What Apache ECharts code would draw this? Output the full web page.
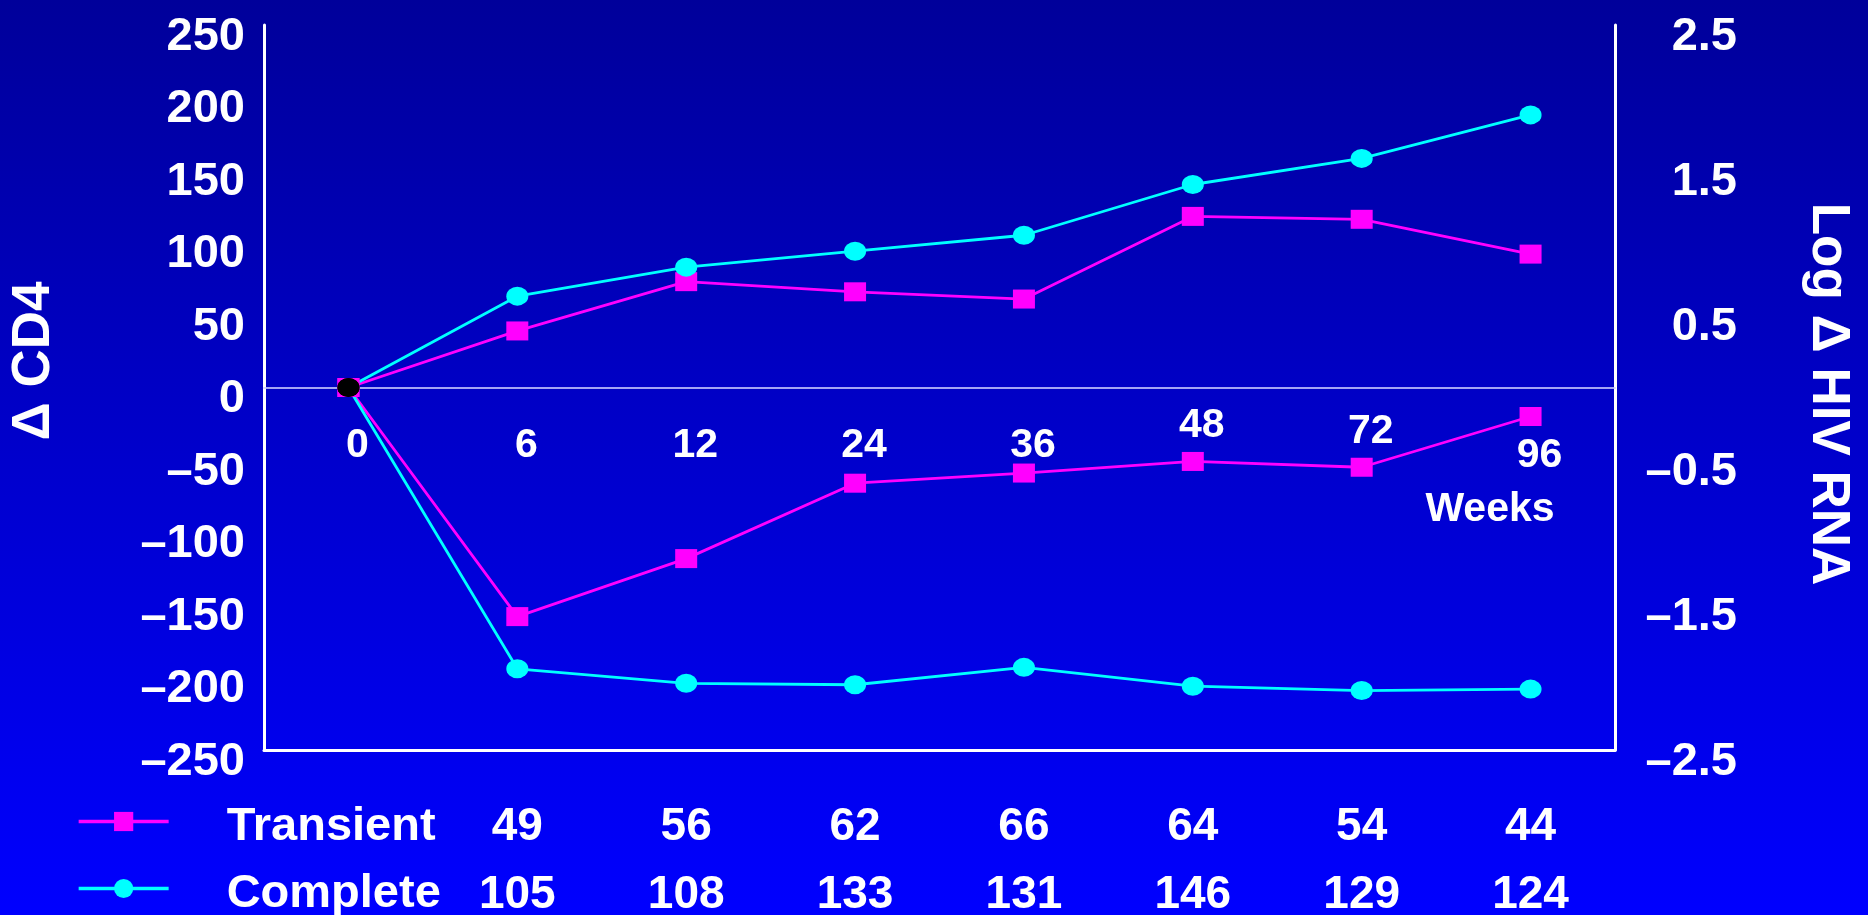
<!DOCTYPE html>
<html>
<head>
<meta charset="utf-8">
<script src="https://cdn.jsdelivr.net/npm/echarts@6/dist/echarts.min.js"></script>
<style>
  html, body { margin: 0; padding: 0; width: 100%; height: 100%; background: linear-gradient(#00009a, #0000ff); overflow: hidden; }
  #chart { width: 1868px; height: 915px; }
</style>
</head>
<body>
<div id="chart"></div>
<script>
// Study weeks (category axis)
const weeks = ['0', '6', '12', '24', '36', '48', '72', '96'];

// Change in CD4 count (left axis)
const cd4Transient = [0, 39, 73, 66, 61, 118, 116, 92];
const cd4Complete  = [0, 63, 83, 94, 105, 140, 158, 188];

// Log change in HIV RNA (right axis)
const rnaTransient = [0, -1.58, -1.18, -0.66, -0.59, -0.51, -0.55, -0.20];
const rnaComplete  = [0, -1.94, -2.04, -2.05, -1.93, -2.06, -2.09, -2.08];

// Patients at each visit, weeks 6..96
const nTransient = [49, 56, 62, 66, 64, 54, 44];
const nComplete  = [105, 108, 133, 131, 146, 129, 124];

// Tick labels
const cd4Ticks = [-250, -200, -150, -100, -50, 0, 50, 100, 150, 200, 250];
const rnaTicks = [-2.5, -1.5, -0.5, 0.5, 1.5, 2.5];

const FONT = "'Liberation Sans', Arial, Helvetica, sans-serif";
const MAGENTA = '#ff00ff';
const CYAN = '#00ffff';
const WHITE = '#ffffff';

// plot area (px)
const GRID = { left: 264, right: 253, top: 25, bottom: 165 };
const PLOT_H = 915 - GRID.top - GRID.bottom;

// minus shown as an en dash
const signed = (v, digits) => {
  const s = Math.abs(v).toFixed(digits);
  return v < 0 ? '\u2013' + s : s;
};

// vertical placement of individual week labels so they clear the lines
const weekLabelRow = { '48': 'hi', '72': 'mid', '96': 'low' };

function lineSeries(name, values, yAxisIndex, symbol, color) {
  return {
    name: name,
    type: 'line',
    xAxisIndex: 0,
    yAxisIndex: yAxisIndex,
    data: values.map((v, i) =>
      (i === 0 && symbol === 'circle') ? { value: v, itemStyle: { color: '#000000' } } : v),
    symbol: symbol,
    symbolSize: [22, 19],
    showSymbol: true,
    lineStyle: { color: color, width: 2.8 },
    itemStyle: { color: color },
    emphasis: { disabled: true },
    animation: false
  };
}

const labelFont = { color: WHITE, fontFamily: FONT, fontWeight: 'bold' };
const tickRich = { t: Object.assign({ fontSize: 47, lineHeight: 47, padding: [24, 0, 0, 0] }, labelFont) };

const chart = echarts.init(document.getElementById('chart'), null, { renderer: 'canvas' });

chart.setOption({
  backgroundColor: {
    type: 'linear', x: 0, y: 0, x2: 0, y2: 1,
    colorStops: [{ offset: 0, color: '#00009a' }, { offset: 1, color: '#0000ff' }]
  },
  animation: false,
  grid: Object.assign({ containLabel: false, outerBoundsMode: 'none' }, GRID),
  legend: {
    data: ['Transient', 'Complete'],
    orient: 'vertical',
    left: 77,
    top: 792,
    height: 150,
    padding: 0,
    itemWidth: 90,
    itemHeight: 24,
    itemGap: 8,
    selectedMode: false,
    lineStyle: { width: 3.3 },
    formatter: name => '{n|' + name + '}',
    textStyle: Object.assign({
      fontSize: 47,
      rich: { n: Object.assign({ fontSize: 47, lineHeight: 50, padding: [12, 0, 0, 53] }, labelFont) }
    }, labelFont)
  },
  xAxis: [
    {
      // week axis drawn along the zero line (middle of the plot)
      type: 'category',
      data: weeks,
      position: 'bottom',
      offset: -PLOT_H / 2,
      boundaryGap: true,
      axisLine: { onZero: false, lineStyle: { color: 'rgba(205,205,255,0.8)', width: 2 } },
      axisTick: { show: false },
      splitLine: { show: false },
      axisLabel: Object.assign({
        interval: 0,
        margin: 18,
        verticalAlign: 'top',
        fontSize: 41,
        formatter: v => '{' + (weekLabelRow[v] || 'base') + '|' + v + '}',
        rich: {
          base: Object.assign({ fontSize: 41, lineHeight: 41, padding: [40, 0, 0, 18] }, labelFont),
          hi:   Object.assign({ fontSize: 41, lineHeight: 41, padding: [0, 0, 0, 18] }, labelFont),
          mid:  Object.assign({ fontSize: 41, lineHeight: 41, padding: [12, 0, 0, 18] }, labelFont),
          low:  Object.assign({ fontSize: 41, lineHeight: 41, padding: [60, 0, 0, 18] }, labelFont)
        }
      }, labelFont)
    },
    {
      type: 'category',
      data: [''].concat(nTransient.map(String)),
      position: 'bottom',
      axisLine: { show: true, onZero: false, lineStyle: { color: WHITE, width: 3 } },
      axisTick: { show: false },
      splitLine: { show: false },
      axisLabel: Object.assign({ interval: 0, margin: 77, verticalAlign: 'middle', fontSize: 46 }, labelFont)
    },
    {
      type: 'category',
      data: [''].concat(nComplete.map(String)),
      position: 'bottom',
      axisLine: { show: false, onZero: false },
      axisTick: { show: false },
      splitLine: { show: false },
      axisLabel: Object.assign({ interval: 0, margin: 145, verticalAlign: 'middle', fontSize: 46 }, labelFont)
    }
  ],
  yAxis: [
    {
      type: 'value',
      position: 'left',
      min: -250, max: 250, interval: 50,
      axisLine: { show: true, onZero: false, lineStyle: { color: WHITE, width: 3 } },
      axisTick: { show: false },
      splitLine: { show: false },
      axisLabel: Object.assign({
        margin: 19, fontSize: 47, rich: tickRich,
        formatter: v => cd4Ticks.indexOf(v) >= 0 ? '{t|' + signed(v, 0) + '}' : ''
      }, labelFont)
    },
    {
      type: 'value',
      position: 'right',
      min: -2.5, max: 2.5, interval: 0.5,
      axisLine: { show: true, onZero: false, lineStyle: { color: WHITE, width: 3 } },
      axisTick: { show: false },
      splitLine: { show: false },
      axisLabel: Object.assign({
        margin: 122, align: 'right', fontSize: 47, rich: tickRich,
        formatter: v => rnaTicks.some(t => Math.abs(t - v) < 1e-9) ? '{t|' + signed(v, 1) + '}' : ''
      }, labelFont)
    }
  ],
  graphic: [
    {
      type: 'text', x: 34, y: 361, rotation: Math.PI / 2,
      style: { text: '\u0394 CD4', fill: WHITE, font: 'bold 53px ' + FONT, align: 'center', verticalAlign: 'middle', textAlign: 'center', textVerticalAlign: 'middle' }
    },
    {
      type: 'text', x: 1828, y: 394, rotation: -Math.PI / 2,
      style: { text: 'Log \u0394 HIV RNA', fill: WHITE, font: 'bold 53px ' + FONT, align: 'center', verticalAlign: 'middle', textAlign: 'center', textVerticalAlign: 'middle' }
    },
    {
      type: 'text', x: 1490, y: 510,
      style: { text: 'Weeks', fill: WHITE, font: 'bold 41px ' + FONT, align: 'center', verticalAlign: 'middle', textAlign: 'center', textVerticalAlign: 'middle' }
    }
  ],
  series: [
    lineSeries('Transient', rnaTransient, 1, 'rect', MAGENTA),
    lineSeries('Transient', cd4Transient, 0, 'rect', MAGENTA),
    lineSeries('Complete', rnaComplete, 1, 'circle', CYAN),
    lineSeries('Complete', cd4Complete, 0, 'circle', CYAN)
  ]
});
</script>
</body>
</html>
